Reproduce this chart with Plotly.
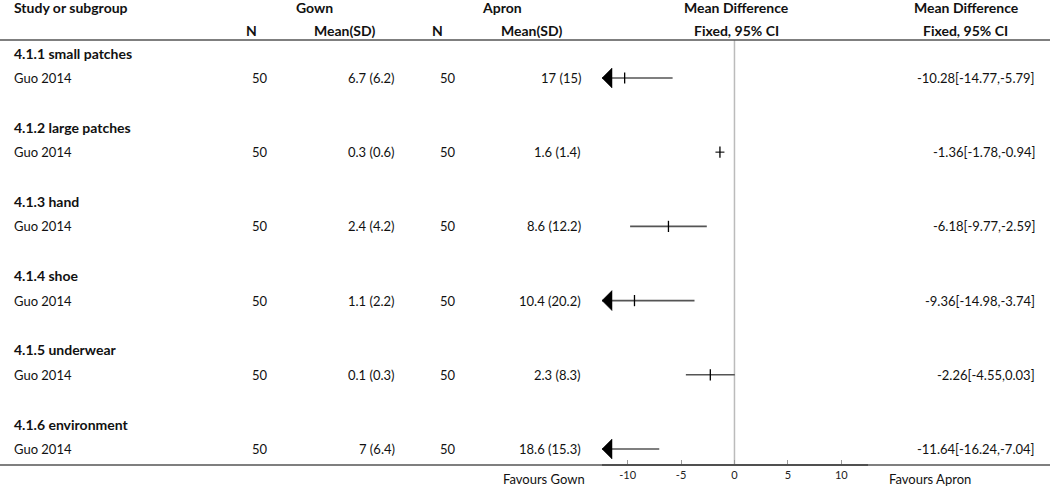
import plotly.graph_objects as go

# ---------------- data ----------------
groups = ["4.1.1 small patches", "4.1.2 large patches", "4.1.3 hand",
          "4.1.4 shoe", "4.1.5 underwear", "4.1.6 environment"]
studies = ["Guo 2014"] * 6
gown_n = [50, 50, 50, 50, 50, 50]
gown_mean = [6.7, 0.3, 2.4, 1.1, 0.1, 7]
gown_sd = [6.2, 0.6, 4.2, 2.2, 0.3, 6.4]
apron_n = [50, 50, 50, 50, 50, 50]
apron_mean = [17, 1.6, 8.6, 10.4, 2.3, 18.6]
apron_sd = [15, 1.4, 12.2, 20.2, 8.3, 15.3]
md = [-10.28, -1.36, -6.18, -9.36, -2.26, -11.64]
ci_lo = [-14.77, -1.78, -9.77, -14.98, -4.55, -16.24]
ci_hi = [-5.79, -0.94, -2.59, -3.74, 0.03, -7.04]
tick_vals = [-10, -5, 0, 5, 10]

# ---------------- layout constants ----------------
W, H = 1050, 487
FONT = "Lato"
FS = 13
FSB = 14
TXT = "#111111"
XMIN, XMAX = -12.4, 12.5
PLOT_L, PLOT_R = 602, 868
px_per_unit = (PLOT_R - PLOT_L) / (XMAX - XMIN)

HEAD1_Y, HEAD2_Y = 7, 30
TOP_RULE, BOT_RULE = 40, 465
GROUP_Y0, STUDY_Y0, STEP = 53, 78, 74.2

fig = go.Figure()
ann = []


def txt(x, y, s, anchor="left", bold=False, size=None):
    if size is None:
        size = FSB if bold else FS
    ann.append(dict(x=x / W, xref="paper", y=y, yref="y", text=f"<b>{s}</b>" if bold else s,
                    showarrow=False, xanchor=anchor, yanchor="middle",
                    font=dict(family=FONT, size=size, color=TXT)))


# headers
txt(12, HEAD1_Y, "Study or subgroup", bold=True)
txt(314, HEAD1_Y, "Gown", "center", True)
txt(502, HEAD1_Y, "Apron", "center", True)
txt(736, HEAD1_Y, "Mean Difference", "center", True)
txt(966, HEAD1_Y, "Mean Difference", "center", True)
txt(251, HEAD2_Y, "N", "center", True)
txt(344, HEAD2_Y, "Mean(SD)", "center", True)
txt(437, HEAD2_Y, "N", "center", True)
txt(531, HEAD2_Y, "Mean(SD)", "center", True)
txt(736, HEAD2_Y, "Fixed, 95% CI", "center", True)
txt(965, HEAD2_Y, "Fixed, 95% CI", "center", True)

fmt = lambda v: f"{v:g}"

for i, g in enumerate(groups):
    gy = GROUP_Y0 + i * STEP
    sy = STUDY_Y0 + i * STEP
    txt(12, gy, g, bold=True)
    txt(12, sy, studies[i])
    txt(260, sy, str(gown_n[i]), "center")
    txt(397, sy, f"{fmt(gown_mean[i])} ({fmt(gown_sd[i])})", "right")
    txt(448, sy, str(apron_n[i]), "center")
    txt(583, sy, f"{fmt(apron_mean[i])} ({fmt(apron_sd[i])})", "right")
    txt(1037, sy, f"{md[i]:.2f}[{ci_lo[i]:.2f},{ci_hi[i]:.2f}]", "right")

    lo = max(ci_lo[i], XMIN)
    hi = min(ci_hi[i], XMAX)
    fig.add_trace(go.Scatter(x=[lo, hi], y=[sy, sy], mode="lines",
                             line=dict(color="#555555", width=1.6),
                             hoverinfo="skip", showlegend=False))
    if XMIN < md[i] < XMAX:
        fig.add_trace(go.Scatter(x=[md[i]], y=[sy], mode="markers",
                                 marker=dict(symbol="line-ns", size=8,
                                             line=dict(color="#000000", width=1.3)),
                                 hoverinfo="skip", showlegend=False))
    if ci_lo[i] < XMIN:
        base = XMIN + 10 / px_per_unit
        fig.add_trace(go.Scatter(x=[XMIN, base, base, XMIN], y=[sy, sy - 10, sy + 10, sy],
                                 mode="lines", fill="toself", fillcolor="#000000",
                                 line=dict(color="#000000", width=0.5),
                                 hoverinfo="skip", showlegend=False))

txt(587, 479, "Favours Gown", "right")
txt(887, 479, "Favours Apron", "left")

shapes = [
    dict(type="line", xref="paper", yref="y", x0=0, x1=1, y0=TOP_RULE, y1=TOP_RULE,
         line=dict(color="#555555", width=1.5)),
    dict(type="line", xref="paper", yref="y", x0=0, x1=1, y0=BOT_RULE, y1=BOT_RULE,
         line=dict(color="#555555", width=1.5)),
    dict(type="line", xref="x", yref="y", x0=0, x1=0, y0=TOP_RULE, y1=BOT_RULE,
         line=dict(color="#bbbbbb", width=1.5), layer="below"),
]

fig.update_layout(
    width=W, height=H,
    margin=dict(l=0, r=0, t=0, b=0),
    paper_bgcolor="white", plot_bgcolor="rgba(0,0,0,0)",
    showlegend=False,
    annotations=ann, shapes=shapes,
    xaxis=dict(domain=[PLOT_L / W, PLOT_R / W], range=[XMIN, XMAX],
               anchor="free", position=1 - BOT_RULE / H,
               showline=True, linecolor="#444444", linewidth=2,
               showgrid=False, zeroline=False,
               ticks="inside", ticklen=4, tickcolor="#999999", tickwidth=1,
               tickvals=tick_vals, ticktext=[str(v) for v in tick_vals],
               tickfont=dict(family=FONT, size=11, color="#222222"),
               fixedrange=True),
    yaxis=dict(domain=[0, 1], range=[H, 0], visible=False, fixedrange=True),
)

fig.write_html("out.html", config={"displayModeBar": False},
               post_script="document.body.style.margin='0px';document.body.style.padding='0px';"
                           "document.body.style.overflow='hidden';")
